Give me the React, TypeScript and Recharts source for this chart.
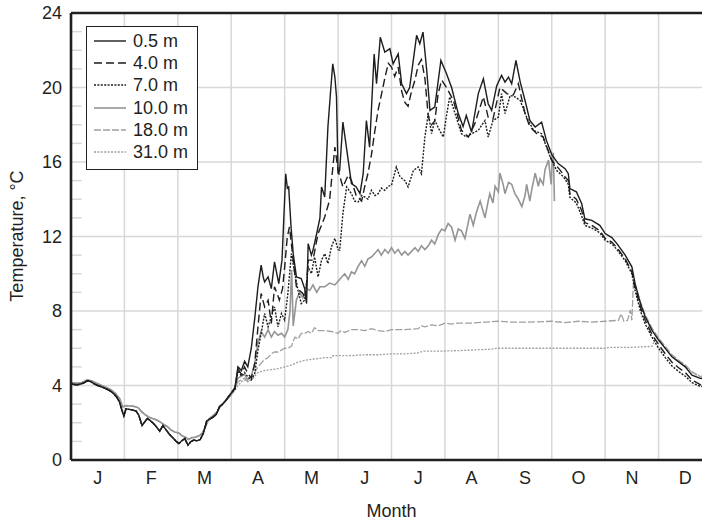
import React from "react";
import { LineChart, Line, XAxis, YAxis, CartesianGrid, ReferenceLine, Legend } from "recharts";

// x values are month positions (0 = start of Jan, 12 = end of Dec), y values in °C

const monthLetters = ["J", "F", "M", "A", "M", "J", "J", "A", "S", "O", "N", "D"];
const monthCenters = [0.5, 1.5, 2.5, 3.5, 4.5, 5.5, 6.5, 7.5, 8.5, 9.5, 10.5, 11.5];
const monthBounds = [1, 2, 3, 4, 5, 6, 7, 8, 9, 10, 11];
const majorTemps = [0, 4, 8, 12, 16, 20, 24];
const minorTemps = [1, 2, 3, 5, 6, 7, 9, 10, 11, 13, 14, 15, 17, 18, 19, 21, 22, 23];

// Jan - Mar, upper sensors (0.5, 4, 7 m)
const winterShallow: [number, number][] = [
  [0, 4.1], [0.06, 4.05], [0.12, 4.04], [0.18, 4.08], [0.25, 4.15], [0.3, 4.25], [0.36, 4.22],
  [0.42, 4.12], [0.5, 4.0], [0.58, 3.92], [0.66, 3.82], [0.74, 3.7], [0.8, 3.56], [0.86, 3.36],
  [0.91, 3.1], [0.95, 2.7], [0.99, 2.36], [1.03, 2.75], [1.09, 2.72], [1.16, 2.68], [1.22, 2.62],
  [1.27, 2.4], [1.33, 1.85], [1.38, 2.05], [1.43, 2.23], [1.49, 2.1], [1.54, 1.97], [1.6, 1.78],
  [1.66, 1.55], [1.72, 1.85], [1.78, 1.62], [1.85, 1.35], [1.92, 1.15], [1.97, 1.0], [2.02, 0.88],
  [2.08, 1.05], [2.13, 1.15], [2.19, 0.8], [2.24, 0.98], [2.3, 1.07], [2.36, 1.03], [2.42, 1.1],
  [2.48, 1.45], [2.54, 2.1], [2.6, 2.2], [2.66, 2.3], [2.72, 2.45], [2.78, 2.86], [2.84, 3.0],
  [2.9, 3.2], [2.96, 3.45], [3.0, 3.6],
];

// Jan - Mar, deeper sensors (10, 18, 31 m)
const winterDeep: [number, number][] = [
  [0, 4.15], [0.1, 4.12], [0.2, 4.15], [0.3, 4.3], [0.38, 4.25], [0.46, 4.15], [0.56, 4.02],
  [0.66, 3.9], [0.76, 3.75], [0.84, 3.55], [0.91, 3.3], [0.97, 2.85], [1.03, 2.92], [1.1, 2.9],
  [1.18, 2.88], [1.26, 2.8], [1.32, 2.6], [1.38, 2.45], [1.46, 2.3], [1.54, 2.22], [1.6, 2.15],
  [1.66, 2.06], [1.74, 1.9], [1.8, 1.8], [1.86, 1.64], [1.94, 1.5], [2.02, 1.45], [2.08, 1.3],
  [2.14, 1.22], [2.2, 1.1], [2.26, 1.2], [2.32, 1.22], [2.4, 1.3], [2.46, 1.45], [2.52, 1.8],
  [2.58, 2.2], [2.66, 2.38], [2.74, 2.6], [2.8, 2.9], [2.88, 3.15], [2.95, 3.35], [3.0, 3.5],
];

const rest05: [number, number][] = [
  [3.07, 3.9], [3.125, 5.0], [3.19, 4.8], [3.25, 5.3], [3.31, 5.0], [3.375, 6.0], [3.44, 7.6],
  [3.5, 9.3], [3.56, 10.46], [3.6, 9.8], [3.625, 9.56], [3.69, 9.83], [3.75, 9.2], [3.81, 10.64],
  [3.86, 9.9], [3.89, 9.47], [3.95, 10.73], [4.02, 15.37], [4.05, 14.6], [4.075, 14.66],
  [4.12, 12.5], [4.16, 11.08], [4.22, 9.83], [4.31, 9.74], [4.375, 9.2], [4.41, 8.4],
  [4.44, 11.62], [4.5, 11.0], [4.53, 11.26], [4.6, 12.16], [4.66, 13.0], [4.69, 14.66],
  [4.75, 14.12], [4.81, 17.9], [4.86, 19.8], [4.9, 21.27], [4.94, 20.56], [4.97, 19.5],
  [5.0, 15.37], [5.03, 15.55], [5.09, 18.14], [5.19, 16.09], [5.25, 14.84], [5.34, 14.66],
  [5.41, 14.3], [5.47, 15.37], [5.53, 18.23], [5.59, 16.8], [5.675, 21.8], [5.72, 20.2],
  [5.79, 22.7], [5.875, 21.9], [5.97, 22.08], [6.03, 21.27], [6.125, 21.8], [6.19, 20.2],
  [6.28, 19.67], [6.34, 20.0], [6.47, 22.8], [6.53, 22.35], [6.59, 22.97], [6.66, 20.9],
  [6.72, 18.77], [6.81, 18.95], [6.925, 21.45], [7.03, 20.74], [7.125, 20.0], [7.25, 18.6],
  [7.34, 17.9], [7.4, 18.5], [7.5, 17.6], [7.625, 19.67], [7.72, 20.47], [7.81, 19.13],
  [7.875, 18.77], [7.97, 20.1], [8.06, 20.65], [8.125, 20.29], [8.19, 20.56], [8.25, 20.2],
  [8.33, 21.45], [8.41, 20.29], [8.5, 19.3], [8.59, 18.23], [8.69, 17.88], [8.81, 18.14],
  [8.9, 17.16], [9.0, 16.4], [9.125, 15.9], [9.25, 15.64], [9.31, 15.37], [9.34, 14.57],
  [9.46, 14.4], [9.56, 13.77], [9.62, 12.95], [9.75, 12.87], [9.9, 12.6], [10.0, 12.16],
  [10.125, 11.94], [10.22, 11.62], [10.375, 11.0], [10.5, 10.37], [10.56, 9.47], [10.66, 8.4],
  [10.75, 7.69], [10.875, 6.97], [11.0, 6.44], [11.125, 5.99], [11.25, 5.54], [11.375, 5.27],
  [11.5, 5.0], [11.625, 4.56], [11.78, 4.38], [11.9, 4.35],
];

const rest40: [number, number][] = [
  [3.07, 3.85], [3.125, 4.9], [3.19, 4.6], [3.25, 5.0], [3.31, 4.65], [3.375, 4.4], [3.44, 5.18],
  [3.5, 7.15], [3.56, 8.94], [3.625, 8.22], [3.69, 8.58], [3.75, 7.33], [3.81, 9.3], [3.875, 8.8],
  [3.9, 8.58], [3.96, 9.2], [4.0, 10.37], [4.05, 12.0], [4.09, 12.51], [4.16, 10.73], [4.22, 9.3],
  [4.28, 9.1], [4.34, 8.94], [4.39, 8.6], [4.44, 10.73], [4.53, 10.73], [4.625, 12.16],
  [4.69, 12.6], [4.75, 13.05], [4.84, 13.94], [4.94, 16.8], [5.0, 15.55], [5.09, 14.66],
  [5.19, 15.3], [5.25, 15.0], [5.34, 14.2], [5.44, 13.9], [5.5, 14.7], [5.56, 15.4],
  [5.625, 16.4], [5.69, 17.7], [5.75, 18.8], [5.81, 19.6], [5.875, 20.5], [5.94, 21.3],
  [6.0, 21.1], [6.06, 20.6], [6.125, 21.1], [6.19, 19.8], [6.25, 19.2], [6.31, 19.0],
  [6.375, 19.8], [6.44, 20.4], [6.5, 21.2], [6.56, 21.5], [6.625, 20.5], [6.69, 18.4],
  [6.75, 18.0], [6.81, 18.2], [6.875, 19.7], [6.94, 20.4], [7.03, 20.0], [7.16, 19.3],
  [7.31, 17.7], [7.44, 17.34], [7.56, 18.06], [7.72, 19.5], [7.81, 18.4], [7.9, 18.3],
  [8.03, 20.0], [8.16, 19.67], [8.28, 19.6], [8.375, 20.2], [8.5, 18.6], [8.59, 17.88],
  [8.72, 17.52], [8.84, 17.34], [9.0, 16.09], [9.16, 15.55], [9.25, 15.2], [9.31, 15.0],
  [9.34, 14.3], [9.46, 14.0], [9.56, 13.4], [9.62, 12.75], [9.75, 12.6], [9.9, 12.3],
  [10.0, 11.9], [10.125, 11.7], [10.22, 11.4], [10.375, 10.8], [10.5, 10.1], [10.56, 9.3],
  [10.66, 8.2], [10.75, 7.5], [10.875, 6.75], [11.0, 6.2], [11.125, 5.7], [11.25, 5.25],
  [11.375, 4.95], [11.5, 4.7], [11.625, 4.3], [11.78, 4.05], [11.9, 4.0],
];

const rest70: [number, number][] = [
  [3.07, 3.8], [3.125, 4.8], [3.19, 4.5], [3.25, 4.7], [3.31, 4.47], [3.375, 4.3], [3.44, 4.65],
  [3.5, 5.9], [3.56, 6.79], [3.625, 7.87], [3.69, 7.15], [3.75, 7.69], [3.81, 8.22],
  [3.875, 7.15], [3.94, 7.87], [4.0, 7.51], [4.06, 8.94], [4.125, 11.08], [4.19, 10.0],
  [4.25, 9.12], [4.31, 8.4], [4.375, 8.58], [4.44, 10.37], [4.5, 10.0], [4.56, 10.9],
  [4.625, 9.83], [4.69, 10.73], [4.75, 11.08], [4.81, 10.55], [4.875, 11.44], [4.94, 11.9],
  [5.0, 11.3], [5.03, 11.26], [5.09, 13.23], [5.16, 14.66], [5.25, 14.3], [5.31, 13.9],
  [5.375, 13.85], [5.44, 14.2], [5.5, 14.12], [5.56, 14.0], [5.625, 14.48], [5.69, 14.2],
  [5.75, 14.3], [5.81, 14.6], [5.875, 14.48], [5.94, 14.7], [6.0, 14.75], [6.09, 15.73],
  [6.16, 15.2], [6.25, 15.0], [6.31, 14.66], [6.41, 15.55], [6.5, 15.73], [6.56, 15.37],
  [6.625, 17.34], [6.69, 18.6], [6.75, 17.52], [6.81, 18.23], [6.9, 17.7], [6.97, 17.34],
  [7.03, 18.5], [7.09, 19.5], [7.19, 18.6], [7.31, 17.52], [7.4, 17.34], [7.5, 17.52],
  [7.625, 17.7], [7.75, 18.23], [7.81, 17.34], [7.9, 18.23], [8.0, 18.4], [8.06, 19.67],
  [8.125, 18.6], [8.22, 19.57], [8.31, 19.5], [8.41, 19.3], [8.53, 18.4], [8.66, 17.7],
  [8.81, 17.52], [8.97, 16.27], [9.09, 15.55], [9.22, 15.2], [9.31, 14.8], [9.34, 14.1],
  [9.46, 13.8], [9.56, 13.1], [9.62, 12.6], [9.75, 12.45], [9.9, 12.2], [10.0, 11.8],
  [10.125, 11.6], [10.22, 11.3], [10.375, 10.7], [10.5, 10.0], [10.56, 9.1], [10.66, 8.0],
  [10.75, 7.3], [10.875, 6.6], [11.0, 6.0], [11.125, 5.5], [11.25, 5.05], [11.375, 4.75],
  [11.5, 4.5], [11.625, 4.15], [11.78, 3.95], [11.9, 3.95],
];

const rest100: [number, number][] = [
  [3.06, 3.8], [3.125, 4.4], [3.19, 4.5], [3.25, 4.6], [3.31, 4.3], [3.375, 4.5], [3.44, 5.2],
  [3.5, 6.3], [3.56, 6.9], [3.625, 6.6], [3.69, 7.0], [3.75, 6.6], [3.81, 6.9], [3.875, 6.7],
  [3.94, 6.8], [4.0, 6.6], [4.06, 7.0], [4.1, 8.0], [4.13, 10.2], [4.16, 7.2], [4.22, 8.6],
  [4.28, 9.0], [4.34, 8.7], [4.41, 9.2], [4.47, 9.1], [4.53, 9.4], [4.6, 9.0], [4.66, 9.3],
  [4.75, 9.3], [4.84, 9.5], [4.94, 9.4], [5.0, 9.6], [5.06, 9.8], [5.125, 10.0], [5.19, 9.7],
  [5.25, 10.1], [5.31, 10.0], [5.375, 10.4], [5.44, 10.7], [5.5, 10.4], [5.56, 10.8],
  [5.625, 10.9], [5.69, 11.1], [5.75, 11.3], [5.81, 11.0], [5.875, 11.3], [5.94, 11.1],
  [6.0, 11.4], [6.06, 11.1], [6.125, 11.3], [6.19, 11.0], [6.25, 11.2], [6.31, 11.0],
  [6.375, 11.2], [6.44, 11.4], [6.5, 11.2], [6.56, 11.5], [6.625, 11.3], [6.69, 11.5],
  [6.75, 11.8], [6.81, 11.6], [6.875, 12.1], [6.94, 12.4], [7.0, 12.3], [7.06, 12.7],
  [7.125, 12.5], [7.19, 11.8], [7.25, 12.4], [7.31, 12.3], [7.375, 11.9], [7.44, 12.8],
  [7.47, 13.2], [7.53, 12.6], [7.59, 13.3], [7.66, 13.9], [7.72, 13.3], [7.75, 13.0],
  [7.81, 13.9], [7.84, 14.3], [7.9, 13.8], [7.94, 14.7], [8.0, 14.4], [8.03, 15.4],
  [8.09, 14.8], [8.125, 14.3], [8.19, 14.9], [8.25, 14.8], [8.31, 14.3], [8.375, 14.0],
  [8.44, 13.6], [8.5, 14.2], [8.53, 14.8], [8.59, 13.9], [8.625, 14.5], [8.69, 15.4],
  [8.75, 14.7], [8.78, 15.1], [8.84, 14.8], [8.875, 15.6], [8.94, 16.1], [8.97, 15.3],
  [8.99, 14.8], [9.01, 16.3], [9.03, 16.5], [9.05, 13.9],
];

const rest180: [number, number][] = [
  [3.06, 3.8], [3.125, 4.2], [3.19, 4.3], [3.25, 4.4], [3.31, 4.2], [3.375, 4.3], [3.44, 4.7],
  [3.5, 5.0], [3.56, 5.2], [3.625, 5.4], [3.69, 5.5], [3.75, 5.7], [3.81, 5.8], [3.875, 5.8],
  [3.94, 5.9], [4.0, 6.0], [4.06, 6.0], [4.125, 6.1], [4.19, 6.6], [4.25, 6.5], [4.31, 6.8],
  [4.375, 6.8], [4.44, 6.9], [4.5, 6.8], [4.56, 7.1], [4.625, 6.95], [4.69, 6.95], [4.75, 6.95],
  [4.875, 6.9], [5.0, 6.8], [5.06, 6.95], [5.125, 6.85], [5.25, 7.0], [5.375, 7.0], [5.5, 6.95],
  [5.625, 7.05], [5.75, 6.95], [5.875, 6.9], [6.0, 7.0], [6.125, 7.0], [6.25, 7.0], [6.5, 7.05],
  [6.56, 7.2], [6.625, 7.15], [6.75, 7.25], [6.875, 7.2], [7.0, 7.35], [7.125, 7.3],
  [7.25, 7.35], [7.5, 7.35], [7.75, 7.4], [8.0, 7.45], [8.25, 7.4], [8.5, 7.4], [8.75, 7.42],
  [9.0, 7.45], [9.25, 7.38], [9.5, 7.45], [9.75, 7.4], [10.0, 7.45], [10.25, 7.5], [10.3, 7.85],
  [10.35, 7.45], [10.42, 7.5], [10.47, 8.05], [10.5, 7.5], [10.53, 9.6], [10.56, 9.4],
  [10.66, 8.5], [10.75, 7.8], [10.875, 7.1], [11.0, 6.55], [11.125, 6.1], [11.25, 5.65],
  [11.375, 5.35], [11.5, 5.1], [11.625, 4.75], [11.75, 4.5], [11.875, 4.4],
];

const rest310: [number, number][] = [
  [3.06, 3.7], [3.125, 4.0], [3.19, 4.2], [3.25, 4.3], [3.31, 4.2], [3.375, 4.3], [3.44, 4.5],
  [3.5, 4.7], [3.625, 4.8], [3.75, 4.85], [3.875, 4.9], [4.0, 5.0], [4.125, 5.1], [4.25, 5.25],
  [4.375, 5.35], [4.5, 5.4], [4.625, 5.45], [4.75, 5.5], [4.875, 5.5], [4.9, 5.6], [5.0, 5.6],
  [5.25, 5.6], [5.5, 5.65], [5.75, 5.65], [6.0, 5.7], [6.25, 5.7], [6.5, 5.75], [6.6, 5.85],
  [6.75, 5.85], [7.0, 5.85], [7.5, 5.9], [7.85, 5.95], [8.0, 6.0], [8.5, 6.0], [9.0, 6.0],
  [9.5, 6.0], [10.0, 6.0], [10.1, 6.05], [10.5, 6.05], [10.875, 6.1], [10.92, 6.4],
  [10.97, 6.6], [11.0, 6.5], [11.125, 6.0], [11.25, 5.6], [11.375, 5.3], [11.5, 5.05],
  [11.625, 4.7], [11.75, 4.55], [11.875, 4.45],
];

const toPoints = (pairs: [number, number][]) => pairs.map(([m, t]) => ({ m, t }));

const BLACK = "#1e1c1d";
const GRAY = "#959595";
const LIGHT = "#a0a0a0";
const GRID = "#d8d8d8";
const TEXT = "#231f20";
const FONT = "'Liberation Sans', Arial, sans-serif";
const FS = 18;

const series = [
  { name: "0.5 m", data: toPoints([...winterShallow, ...rest05]), color: BLACK, dash: undefined, width: 1.4 },
  { name: "4.0 m", data: toPoints([...winterShallow, ...rest40]), color: BLACK, dash: "8 4", width: 1.4 },
  { name: "7.0 m", data: toPoints([...winterShallow, ...rest70]), color: BLACK, dash: "2 1.4", width: 1.4 },
  { name: "10.0 m", data: toPoints([...winterDeep, ...rest100]), color: GRAY, dash: undefined, width: 1.6 },
  { name: "18.0 m", data: toPoints([...winterDeep, ...rest180]), color: LIGHT, dash: "7 2", width: 1.3 },
  { name: "31.0 m", data: toPoints([...winterDeep, ...rest310]), color: LIGHT, dash: "2 1.4", width: 1.3 },
];

const LegendBox = () => (
  <div
    style={{
      border: `1.5px solid ${TEXT}`,
      background: "#fff",
      width: 110,
      height: 139,
      boxSizing: "content-box",
      paddingTop: 3,
      fontFamily: FONT,
      fontSize: FS,
      color: TEXT,
    }}
  >
    {series.map((s) => (
      <div key={s.name} style={{ display: "flex", alignItems: "center", height: 22.2 }}>
        <svg width={46} height={10} style={{ display: "block" }}>
          <line x1={7} y1={5} x2={39} y2={5} stroke={s.color} strokeWidth={s.width} strokeDasharray={s.dash} />
        </svg>
        <span style={{ lineHeight: "22px" }}>{s.name}</span>
      </div>
    ))}
  </div>
);

export default function App() {
  return (
    <div style={{ position: "absolute", left: 0, top: 0, width: 702, height: 521, overflow: "hidden", background: "#fff" }}>
      <LineChart width={720} height={521} margin={{ top: 13, right: 8, bottom: 0, left: 0 }} style={{ fontFamily: FONT }}>
        <CartesianGrid stroke={GRID} strokeWidth={1.5} verticalValues={monthBounds} horizontalValues={[4, 8, 12, 16, 20]} />
        <XAxis
          type="number"
          dataKey="m"
          domain={[0, 12]}
          ticks={monthCenters}
          tickFormatter={(v: number) => monthLetters[Math.floor(v)]}
          interval={0}
          height={61}
          tickLine={false}
          tickSize={0}
          tickMargin={11}
          axisLine={{ stroke: TEXT, strokeWidth: 2.6 }}
          tick={{ fill: TEXT, fontSize: FS, fontFamily: FONT }}
          allowDataOverflow
        />
        <YAxis
          type="number"
          domain={[0, 24]}
          ticks={majorTemps}
          interval={0}
          width={71}
          tickLine={false}
          tickSize={0}
          tickMargin={9}
          axisLine={{ stroke: TEXT, strokeWidth: 2.6 }}
          tick={{ fill: TEXT, fontSize: FS, fontFamily: FONT }}
        />
        {minorTemps.map((v) => (
          <ReferenceLine key={`mt${v}`} segment={[{ x: 0, y: v }, { x: 0.2, y: v }]} stroke={GRID} strokeWidth={1.5} />
        ))}
        <ReferenceLine y={24} stroke={TEXT} strokeWidth={2.6} />
        <ReferenceLine x={12} stroke={TEXT} strokeWidth={2.6} />
        {[...series].reverse().map((s) => (
          <Line
            key={s.name}
            data={s.data}
            dataKey="t"
            name={s.name}
            type="linear"
            stroke={s.color}
            strokeWidth={s.width}
            strokeDasharray={s.dash}
            dot={false}
            activeDot={false}
            isAnimationActive={false}
            legendType="line"
          />
        ))}
        <Legend
          layout="vertical"
          align="center"
          verticalAlign="middle"
          content={() => <LegendBox />}
          wrapperStyle={{ left: 86, top: 26, width: "auto", height: "auto" }}
        />
      </LineChart>
      <svg width={702} height={521} style={{ position: "absolute", left: 0, top: 0, pointerEvents: "none" }}>
        <text x={391.5} y={517} textAnchor="middle" fontSize={FS} fontFamily={FONT} fill={TEXT}>
          Month
        </text>
        <text
          x={0}
          y={0}
          transform="translate(23 236) rotate(-90)"
          textAnchor="middle"
          fontSize={FS}
          fontFamily={FONT}
          fill={TEXT}
        >
          Temperature, °C
        </text>
      </svg>
    </div>
  );
}
